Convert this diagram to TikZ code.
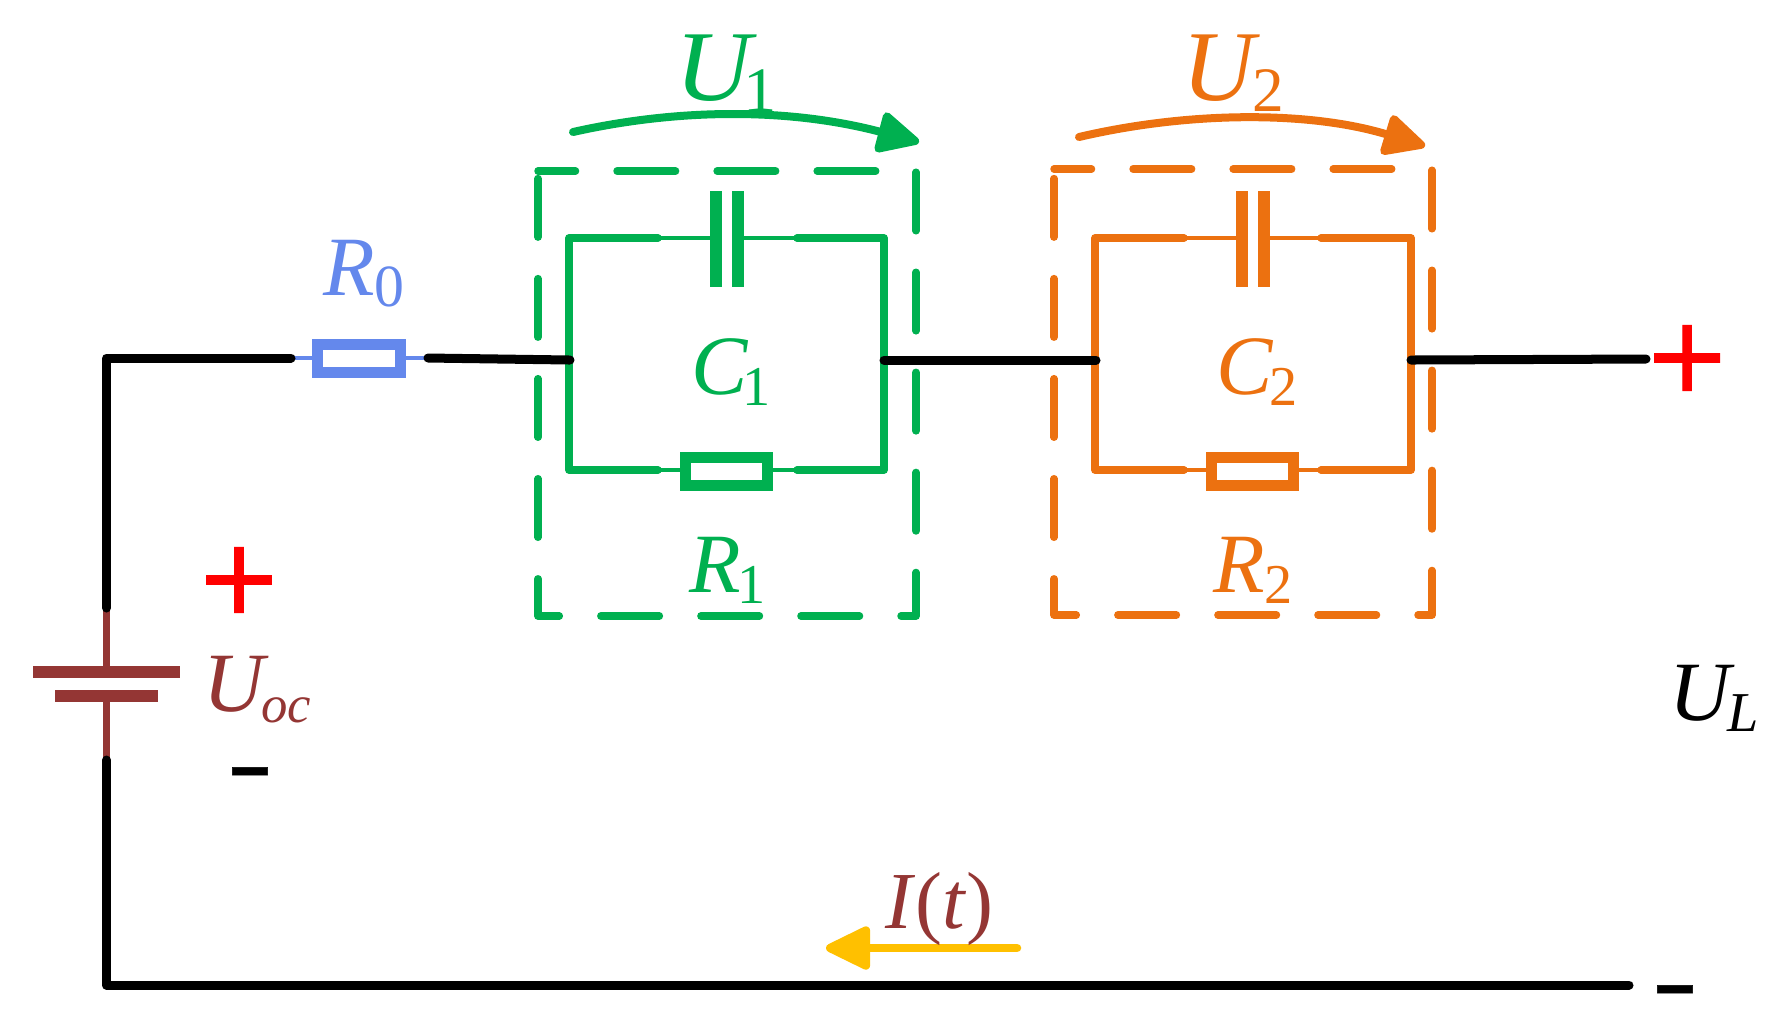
\documentclass[tikz,border=0pt]{standalone}
\usepackage{fontspec}
\usetikzlibrary{arrows.meta,calc}
\setmainfont{Liberation Serif}
\newfontfamily\signfont[FakeBold=1]{DejaVu Sans}
\newfontfamily\minusfont[FakeBold=0.6]{Liberation Sans Bold}
\definecolor{cgreen}{HTML}{00B050}
\definecolor{corange}{HTML}{EC7110}
\definecolor{cblue}{HTML}{6488EC}
\definecolor{cbrown}{HTML}{943634}
\definecolor{cyellow}{HTML}{FFC000}
\newcommand{\lab}[5]{{\fontsize{#3}{#3}\selectfont\textit{#1}\kern#5pt\raisebox{-3.2pt}{\fontsize{#4}{#4}\selectfont #2}}}
\tikzset{
  wire/.style={line width=0.09cm,line cap=round,line join=round,black},
  loopwire/.style={line width=0.075cm,line cap=round,line join=round},
  lead/.style={line width=0.045cm},
  dashbox/.style={line width=0.075cm,line cap=round,line join=round,dash pattern=on 0.585cm off 0.415cm,dash phase=0.21cm},
  resistor/.style={draw,line width=0.11cm,minimum width=0.82cm,minimum height=0.28cm,inner sep=0pt,outer sep=0pt},
  plate/.style={inner sep=0pt,outer sep=0pt,minimum width=0.12cm,minimum height=0.96cm},
  batplate/.style={fill=cbrown,inner sep=0pt,outer sep=0pt,minimum height=0.12cm},
  txt/.style={anchor=base west,inner sep=0pt,outer sep=0pt},
  sign/.style={inner sep=0pt,outer sep=0pt,anchor=center},
  vhead/.style={-{Triangle[length=0.47cm,width=0.44cm,round]}},
}
\begin{document}
\begin{tikzpicture}[x=0.01cm,y=-0.01cm]
\useasboundingbox (0,0) rectangle (1791,1035);
% coordinates
\coordinate (corner) at (106.5,358);
\coordinate (batTop) at (106.5,608);
\coordinate (batBot) at (106.5,760);
\coordinate (botLeft) at (106.5,985);
\coordinate (botRight) at (1629,985);
\coordinate (r0L) at (291,358);
\coordinate (r0R) at (428,358);
\coordinate (g1) at (570,360);
\coordinate (g2) at (884,360);
\coordinate (o1) at (1096,360);
\coordinate (o2) at (1411,360);
\coordinate (outEnd) at (1646,359);
\coordinate (gTL) at (569,238); \coordinate (gTR) at (884,238);
\coordinate (gBL) at (569,470); \coordinate (gBR) at (884,470);
\coordinate (gT1) at (658,238); \coordinate (gT2) at (797,238);
\coordinate (gB1) at (658,470); \coordinate (gB2) at (797,470);
\coordinate (oTL) at (1095,238); \coordinate (oTR) at (1411,238);
\coordinate (oBL) at (1095,470); \coordinate (oBR) at (1411,470);
\coordinate (oT1) at (1184,238); \coordinate (oT2) at (1321,238);
\coordinate (oB1) at (1184,470); \coordinate (oB2) at (1321,470);
\coordinate (gBoxA) at (538,171); \coordinate (gBoxB) at (916,616);
\coordinate (oBoxA) at (1054,169); \coordinate (oBoxB) at (1432,615);
% components
\node[resistor,draw=cblue] (R0) at (359,358) {};
\node[resistor,draw=cgreen] (R1) at (726.5,471.5) {};
\node[resistor,draw=corange] (R2) at (1252.5,471.5) {};
\node[plate,fill=cgreen] (C1a) at (716,239) {};
\node[plate,fill=cgreen] (C1b) at (738,239) {};
\node[plate,fill=corange] (C2a) at (1241.5,239) {};
\node[plate,fill=corange] (C2b) at (1263.5,239) {};
\node[batplate,minimum width=1.46cm] (batA) at (106.5,672) {};
\node[batplate,minimum width=1.02cm] (batB) at (106.5,696) {};
% thin leads
\draw[lead,cblue] (r0L) -- (R0.west);
\draw[lead,cblue] (R0.east) -- (r0R);
\draw[lead,cgreen] (gT1) -- (gT1 -| C1a.west);
\draw[lead,cgreen] (gT2 -| C1b.east) -- (gT2);
\draw[lead,cgreen] (gB1) -- (gB1 -| R1.west);
\draw[lead,cgreen] (gB2 -| R1.east) -- (gB2);
\draw[lead,corange] (oT1) -- (oT1 -| C2a.west);
\draw[lead,corange] (oT2 -| C2b.east) -- (oT2);
\draw[lead,corange] (oB1) -- (oB1 -| R2.west);
\draw[lead,corange] (oB2 -| R2.east) -- (oB2);
\draw[line width=0.065cm,cbrown] (batTop) -- (batA);
\draw[line width=0.065cm,cbrown] (batB) -- (batBot);
% RC loops
\draw[loopwire,cgreen] (gT1) -- (gTL) -- (gBL) -- (gB1);
\draw[loopwire,cgreen] (gT2) -- (gTR) -- (gBR) -- (gB2);
\draw[loopwire,corange] (oT1) -- (oTL) -- (oBL) -- (oB1);
\draw[loopwire,corange] (oT2) -- (oTR) -- (oBR) -- (oB2);
% dashed boxes
\draw[dashbox,cgreen] (gBoxA) -- (gBoxA -| gBoxB) -- (gBoxB) -- (gBoxB -| gBoxA) -- cycle;
\draw[dashbox,corange] (oBoxA) -- (oBoxA -| oBoxB) -- (oBoxB) -- (oBoxB -| oBoxA) -- cycle;
% black wires
\draw[wire] (r0L) -- (corner) -- (batTop);
\draw[wire] (batBot) -- (botLeft) -- (botRight);
\draw[wire] (r0R) -- (g1);
\draw[wire] (g2) -- (o1);
\draw[wire] (o2) -- (outEnd);
% voltage arrows
\coordinate (gArrS) at (573,132); \coordinate (gArrE) at (919,142);
\coordinate (oArrS) at (1079,137); \coordinate (oArrE) at (1425,146);
\draw[line width=0.08cm,line cap=round,cgreen,vhead]
  (gArrS) .. controls (680,108) and (790,108) .. (gArrE);
\draw[line width=0.08cm,line cap=round,corange,vhead]
  (oArrS) .. controls (1190,111) and (1310,111) .. (oArrE);
% current arrow
\coordinate (iS) at (1017,948); \coordinate (iE) at (826,948);
\draw[line width=0.085cm,line cap=round,cyellow,-{Triangle[length=0.5cm,width=0.46cm,round]}] (iS) -- (iE);
% labels
\node[txt,text=cgreen] (U1) at (675,100) {\scalebox{1.05}[1]{\lab{U}{1}{28.5}{18}{-3.5}}};
\node[txt,text=corange] (U2) at (1182,100) {\lab{U}{2}{28.5}{18}{-2}};
\node[txt,text=cblue] (R0t) at (323,295) {\lab{R}{0}{24}{17}{0}};
\node[txt,text=cgreen] (C1t) at (691,394) {\lab{C}{1}{24}{16}{-1.5}};
\node[txt,text=corange] (C2t) at (1216,394) {\lab{C}{2}{24}{16}{-1}};
\node[txt,text=cgreen] (R1t) at (689,592) {\lab{R}{1}{24}{16}{-1}};
\node[txt,text=corange] (R2t) at (1213,592) {\lab{R}{2}{24}{16}{0}};
\node[txt,text=cbrown] (Uoc) at (203,711) {\lab{U}{\textit{oc}}{24}{15}{-2}};
\node[txt,text=black] (UL) at (1669,720) {\lab{U}{\textit{L}}{24}{16}{-2}};
\node[txt,text=cbrown] (It) at (885,928) {\fontsize{23}{23}\selectfont\textit{I}(\textit{t})};
% signs
\node[sign,text=red] (p1) at (239,580) {\fontsize{29.5}{29.5}\signfont +};
\node[sign,text=red] (p2) at (1687,358) {\fontsize{29.5}{29.5}\signfont +};
\node[sign,text=black] (m1) at (250,781) {\fontsize{20}{20}\minusfont −};
\node[sign,text=black] (m2) at (1675,999) {\fontsize{20}{20}\minusfont −};
\end{tikzpicture}
\end{document}
